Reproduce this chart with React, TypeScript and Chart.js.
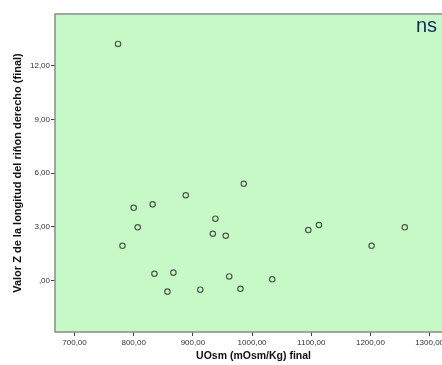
import React, { useEffect, useRef } from "react";
import { Chart, registerables } from "chart.js";

Chart.register(...registerables);

const uosmValues = [773.5, 800, 832, 888, 806.7, 781, 938, 933.7, 835, 867, 857, 912.5, 986, 955.6, 961.4, 980.4, 1034, 1095, 1113, 1202, 1258];
const zValues = [13.21, 4.07, 4.26, 4.77, 2.98, 1.95, 3.46, 2.62, 0.39, 0.45, -0.61, -0.5, 5.41, 2.51, 0.24, -0.45, 0.08, 2.83, 3.11, 1.95, 2.98];
const xTicks = [700, 800, 900, 1000, 1100, 1200, 1300];
const yTicks = [0, 3, 6, 9, 12];
const xTitle = "UOsm (mOsm/Kg) final";
const yTitle = "Valor Z de la longitud del riñon derecho (final)";
const annotation = "ns";

const fmt = (v: number) => {
  const s = v.toFixed(2).replace(".", ",");
  return s.startsWith("0,") ? s.slice(1) : s;
};

const plotBg = {
  id: "plotBg",
  beforeDraw(chart: any) {
    const { ctx, chartArea } = chart;
    ctx.save();
    ctx.fillStyle = "#c6f9c6";
    ctx.fillRect(chartArea.left, chartArea.top, chartArea.right - chartArea.left, chartArea.bottom - chartArea.top);
    ctx.restore();
  },
  afterDraw(chart: any) {
    const { ctx, chartArea } = chart;
    ctx.save();
    ctx.strokeStyle = "#8a8a8a";
    ctx.lineWidth = 1.5;
    ctx.strokeRect(chartArea.left, chartArea.top, chartArea.right - chartArea.left, chartArea.bottom - chartArea.top);
    ctx.fillStyle = "#142c5c";
    ctx.font = "20px 'Liberation Sans', Arial, sans-serif";
    ctx.textAlign = "left";
    ctx.textBaseline = "alphabetic";
    ctx.fillText(annotation, 416, 32);
    ctx.restore();
  },
};

export default function App() {
  const ref = useRef<HTMLCanvasElement>(null);
  useEffect(() => {
    if (!ref.current) return;
    const data = uosmValues.map((x, i) => ({ x, y: zValues[i] }));
    const chart = new Chart(ref.current, {
      type: "scatter",
      data: {
        datasets: [
          {
            data,
            pointRadius: 2.7,
            pointHoverRadius: 2.7,
            pointBorderWidth: 1.2,
            pointBorderColor: "#4b5b4b",
            pointBackgroundColor: "rgba(0,0,0,0)",
          },
        ],
      },
      options: {
        animation: false,
        responsive: false,
        maintainAspectRatio: false,
        events: [],
        layout: { padding: { top: 14, right: 3, left: 0, bottom: 0 } },
        plugins: { legend: { display: false }, tooltip: { enabled: false } },
        scales: {
          x: {
            type: "linear",
            min: 667,
            max: 1338,
            afterBuildTicks: (s: any) => {
              s.ticks = xTicks.map((v) => ({ value: v }));
            },
            afterFit: (s: any) => {
              s.height = 33;
            },
            grid: { drawOnChartArea: false, drawTicks: true, tickLength: 4, color: "#444", lineWidth: 1 },
            border: { display: false },
            ticks: {
              padding: 2,
              color: "#333",
              font: { family: "'Liberation Sans', Arial, sans-serif", size: 8 },
              callback: (v: any) => fmt(Number(v)),
              maxRotation: 0,
              autoSkip: false,
            },
            title: {
              display: true,
              text: xTitle,
              color: "#111",
              font: { family: "'Liberation Sans', Arial, sans-serif", size: 10.5, weight: "bold" },
              padding: { top: 0, bottom: 3 },
            },
          },
          y: {
            type: "linear",
            min: -2.86,
            max: 14.88,
            afterBuildTicks: (s: any) => {
              s.ticks = yTicks.map((v) => ({ value: v }));
            },
            afterFit: (s: any) => {
              s.width = 55;
            },
            grid: { drawOnChartArea: false, drawTicks: true, tickLength: 4, color: "#444", lineWidth: 1 },
            border: { display: false },
            ticks: {
              padding: 1,
              color: "#333",
              font: { family: "'Liberation Sans', Arial, sans-serif", size: 8 },
              callback: (v: any) => fmt(Number(v)),
              autoSkip: false,
            },
            title: {
              display: true,
              text: yTitle,
              color: "#111",
              font: { family: "'Liberation Sans', Arial, sans-serif", size: 11, weight: "bold" },
              padding: { top: 11, bottom: 0 },
            },
          },
        },
      },
      plugins: [plotBg],
    });
    return () => chart.destroy();
  }, []);

  return (
    <div style={{ position: "fixed", left: 0, top: 0, width: 442, height: 365, overflow: "hidden", background: "#fff" }}>
      <canvas ref={ref} width={456} height={365} style={{ width: 456, height: 365, display: "block" }} />
    </div>
  );
}
